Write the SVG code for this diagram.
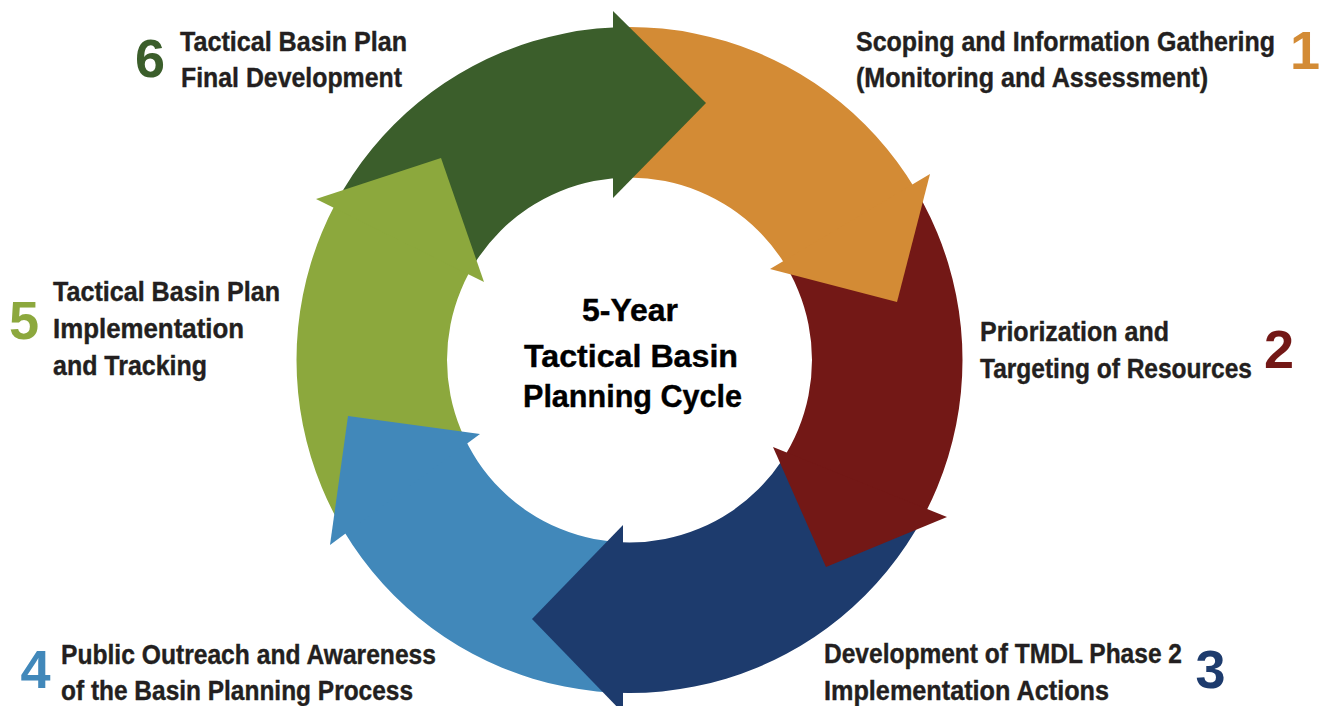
<svg xmlns="http://www.w3.org/2000/svg" width="1322" height="706" viewBox="0 0 1322 706">
  <style>
    .lbl { font-family: "Liberation Sans", Arial, sans-serif; font-weight: bold; font-size: 25px; fill: #231F20; stroke: #231F20; stroke-width: 0.35px; }
    .ctr { font-family: "Liberation Sans", Arial, sans-serif; font-weight: bold; font-size: 32px; fill: #000000; stroke: #000000; stroke-width: 0.4px; text-anchor: middle; }
    .num { font-family: "Liberation Sans", Arial, sans-serif; font-weight: bold; font-size: 54px; text-anchor: middle; }
    .c1 { fill: #D38B35; } .c2 { fill: #731816; } .c3 { fill: #1D3B6D; }
    .c4 { fill: #4188BA; } .c5 { fill: #8CA83D; } .c6 { fill: #3B5E2B; }
  </style>
  <defs>
    <clipPath id="ring">
      <path clip-rule="evenodd" d="M 296.5 360 A 333 333 0 1 0 962.5 360 A 333 333 0 1 0 296.5 360 Z M 447 360 A 182.5 182.5 0 1 0 812 360 A 182.5 182.5 0 1 0 447 360 Z"/>
    </clipPath>
  </defs>
  <rect width="1322" height="706" fill="#FFFFFF"/>

  <g id="connectors">
    <g id="ring-bodies" clip-path="url(#ring)">
      <polygon class="c1" points="615,300 615,-60 900,-60 1011,128.2 691,318.2"/>
      <polygon class="c2" points="691,318.2 1011,128.2 1100,360 1050.7,560.9 685.3,413.9"/>
      <polygon class="c3" points="685.3,413.9 1050.7,560.9 900,800 621,760 621,420"/>
      <polygon class="c4" points="621,420 621,760 350,760 238.8,610.4 553.8,376.9"/>
      <polygon class="c5" points="553.8,376.9 238.8,610.4 200,380 215.9,147.2 568.9,321.7"/>
      <polygon class="c6" points="568.9,321.7 215.9,147.2 350,-60 615,-60 615,300"/>
    </g>
    <g id="ring-heads">
      <polygon class="c1" points="930,174 897,302 770,269"/>
      <polygon class="c2" points="947,517 826,567 773,447"/>
      <polygon class="c3" points="623,525 532,619 623,713"/>
      <polygon class="c4" points="330,545 348,416 480,434"/>
      <polygon class="c5" points="316,199 441,158 484,282"/>
      <polygon class="c6" points="613,11 706,103 613,198"/>
    </g>
  </g>

  <g id="center-title">
    <text class="ctr" x="630" y="321" textLength="96" lengthAdjust="spacingAndGlyphs">5-Year</text>
    <text class="ctr" x="631" y="367" textLength="214" lengthAdjust="spacingAndGlyphs">Tactical Basin</text>
    <text class="ctr" x="632.5" y="407" textLength="219" lengthAdjust="spacingAndGlyphs">Planning Cycle</text>
  </g>

  <g id="step1">
    <text class="lbl" transform="translate(856,51) scale(1,1.12)" textLength="419" lengthAdjust="spacingAndGlyphs">Scoping and Information Gathering</text>
    <text class="lbl" transform="translate(856,87) scale(1,1.12)" textLength="352" lengthAdjust="spacingAndGlyphs">(Monitoring and Assessment)</text>
    <text class="num c1" x="1305" y="69">1</text>
  </g>
  <g id="step2">
    <text class="lbl" transform="translate(980,341) scale(1,1.12)" textLength="189" lengthAdjust="spacingAndGlyphs">Priorization and</text>
    <text class="lbl" transform="translate(980,378) scale(1,1.12)" textLength="272" lengthAdjust="spacingAndGlyphs">Targeting of Resources</text>
    <text class="num c2" x="1279" y="368">2</text>
  </g>
  <g id="step3">
    <text class="lbl" transform="translate(824,663) scale(1,1.12)" textLength="358" lengthAdjust="spacingAndGlyphs">Development of TMDL Phase 2</text>
    <text class="lbl" transform="translate(824,700) scale(1,1.12)" textLength="285" lengthAdjust="spacingAndGlyphs">Implementation Actions</text>
    <text class="num c3" x="1210.5" y="688">3</text>
  </g>
  <g id="step4">
    <text class="lbl" transform="translate(61,664) scale(1,1.12)" textLength="375" lengthAdjust="spacingAndGlyphs">Public Outreach and Awareness</text>
    <text class="lbl" transform="translate(61,700) scale(1,1.12)" textLength="352" lengthAdjust="spacingAndGlyphs">of the Basin Planning Process</text>
    <text class="num c4" x="35.5" y="688">4</text>
  </g>
  <g id="step5">
    <text class="lbl" transform="translate(53,301) scale(1,1.12)" textLength="227" lengthAdjust="spacingAndGlyphs">Tactical Basin Plan</text>
    <text class="lbl" transform="translate(53,338) scale(1,1.12)" textLength="191" lengthAdjust="spacingAndGlyphs">Implementation</text>
    <text class="lbl" transform="translate(53,375) scale(1,1.12)" textLength="154" lengthAdjust="spacingAndGlyphs">and Tracking</text>
    <text class="num c5" x="24" y="339">5</text>
  </g>
  <g id="step6">
    <text class="lbl" transform="translate(180,51) scale(1,1.12)" textLength="227" lengthAdjust="spacingAndGlyphs">Tactical Basin Plan</text>
    <text class="lbl" transform="translate(181,87) scale(1,1.12)" textLength="221" lengthAdjust="spacingAndGlyphs">Final Development</text>
    <text class="num c6" x="150" y="77">6</text>
  </g>
</svg>
